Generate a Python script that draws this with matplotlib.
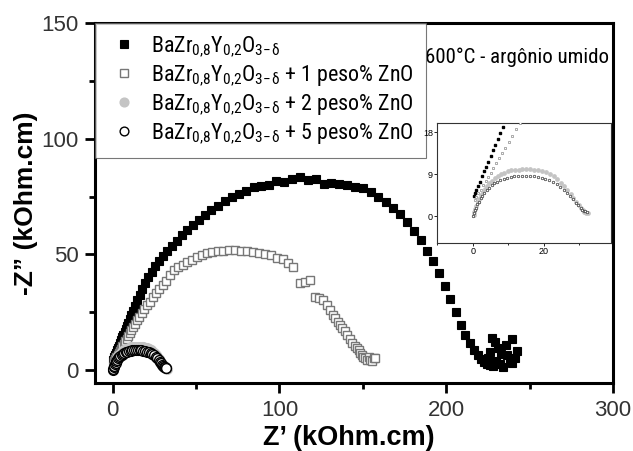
import matplotlib
matplotlib.use("Agg")
import matplotlib.pyplot as plt
from matplotlib.ticker import MultipleLocator

# ---------------- data ----------------
x_pure = [0.3, 0.6, 1.0, 1.5, 2.0, 2.6, 3.2, 3.8, 4.4, 5.0, 5.7, 6.4, 7.1, 7.8, 8.5, 9.3,
          10.2, 11.2, 12.3, 13.5, 14.8, 16.2, 17.8, 19.5, 21.3, 23.3, 25.5, 27.8, 30.2, 32.8,
          35.5, 38.4, 41.5, 44.7, 48.0, 51.5, 55.2, 59.0, 63.0, 67.1, 71.3, 75.6, 80.0, 84.5,
          89.0, 93.5, 98.2, 102.8, 107.5, 112.2, 117.0, 121.7, 126.5, 131.2, 136.0, 140.7,
          145.4, 150.0, 154.6, 159.2, 163.7, 168.1, 172.4, 176.6, 180.7, 184.7, 188.5, 192.2,
          195.8, 199.2, 202.5, 205.6, 208.6, 211.4, 214.0, 216.5, 218.8, 220.9, 222.8, 224.6,
          226.2, 227.5, 239.5, 242.5, 239.5, 228.0, 234.0, 225.0, 231.0, 236.5, 230.0, 233.0,
          229.0, 236.0, 241.0, 226.0, 232.0, 238.0]
y_pure = [4.3, 4.9, 5.6, 6.5, 7.4, 8.5, 9.6, 10.6, 11.7, 12.8, 14.1, 15.3, 16.6, 17.8, 19.1, 20.5,
          22.0, 23.8, 25.7, 27.8, 30.1, 32.5, 35.2, 37.5, 40.0, 42.5, 45.0, 47.2, 49.3, 51.5,
          53.6, 55.8, 58.3, 60.5, 62.5, 64.7, 66.8, 69.0, 71.0, 72.9, 74.6, 76.2, 77.6, 78.9,
          79.6, 80.1, 81.9, 81.2, 82.6, 83.3, 82.0, 82.4, 80.5, 80.9, 80.6, 80.1,
          79.2, 78.6, 76.8, 74.6, 72.5, 70.2, 67.6, 64.2, 60.3, 56.0, 51.6, 47.0,
          42.0, 36.5, 30.5, 25.0, 19.6, 15.2, 11.5, 8.6, 6.4, 4.8, 3.6, 2.6,
          2.0, 13.8, 13.4, 8.2, 3.0, 1.7, 1.3, 5.2, 9.5, 6.5, 4.0, 7.0,
          12.0, 11.0, 5.0, 8.0, 2.5, 3.5]

x_zn1 = [0.5, 1.0, 1.6, 2.2, 2.9, 3.6, 4.3, 5.0, 5.8, 6.6, 7.4, 8.3, 9.2, 10.2, 11.2, 12.3, 13.4,
         14.6, 15.9, 17.3, 18.8, 20.4, 22.1, 23.9, 25.8, 27.8, 29.9, 32.1, 34.4, 36.8, 39.3,
         41.9, 44.6, 47.4, 50.3, 53.3, 56.4, 59.6, 62.9, 66.3, 69.8, 73.3, 76.9, 80.5, 84.1,
         87.7, 91.3, 94.9, 98.4, 101.9, 105.2, 108.4, 112.6, 115.5, 118.6, 121.6, 124.0,
         126.3, 128.5, 130.5, 132.2, 133.5, 135.0, 136.4, 137.7, 139.2, 140.7, 142.2, 143.7,
         145.0, 146.3, 147.5, 148.5, 149.4, 150.3, 151.3, 152.5, 153.5, 154.5, 155.6, 156.5,
         157.5]
y_zn1 = [3.5, 4.1, 4.9, 5.7, 6.6, 7.5, 8.4, 9.3, 10.3, 11.4, 12.4, 13.6, 14.7, 16.0, 17.3, 18.7,
         20.0, 21.5, 23.0, 24.6, 26.2, 27.9, 29.6, 31.4, 33.2, 35.0, 36.8, 38.6, 41.0, 43.2,
         44.6, 45.6, 46.6, 47.6, 48.8, 49.8, 50.6, 51.0, 51.3, 51.6, 51.7, 51.9, 51.6, 51.5,
         51.0, 50.6, 50.1, 49.6, 48.6, 47.8, 46.2, 44.4, 37.5, 38.2, 38.8, 31.5, 31.0,
         30.2, 28.0, 25.9, 24.0, 22.4, 20.8, 19.5, 18.0, 16.8, 15.0, 13.5, 11.6,
         10.5, 9.4, 8.6, 7.5, 6.5, 5.6, 5.0, 4.3, 5.5, 4.3, 3.8, 5.2, 5.2]

x_zn2 = [0.2, 0.4, 0.7, 1.0, 1.4, 1.8, 2.3, 2.8, 3.4, 4.0, 4.7, 5.4, 6.2, 7.0, 7.9, 8.8, 9.8,
         10.8, 11.8, 12.9, 14.0, 15.1, 16.2, 17.3, 18.4, 19.5, 20.6, 21.7, 22.8, 23.8, 24.8,
         25.8, 26.7, 27.6, 28.4, 29.2, 29.9, 30.5, 31.0, 31.5, 32.0, 32.4]
y_zn2 = [0.3, 0.8, 1.5, 2.2, 3.0, 3.7, 4.5, 5.2, 5.9, 6.5, 7.1, 7.6, 8.1, 8.6, 9.0, 9.3, 9.6,
         9.8, 9.9, 10.0, 10.1, 10.1, 10.1, 10.0, 9.9, 9.7, 9.4, 9.0, 8.5, 7.9, 7.2,
         6.4, 5.6, 4.7, 3.8, 3.0, 2.3, 1.7, 1.2, 0.9, 0.7, 0.6]

x_zn5 = [0.1, 0.3, 0.6, 0.9, 1.3, 1.7, 2.2, 2.7, 3.3, 3.9, 4.6, 5.3, 6.1, 6.9, 7.8, 8.7, 9.7,
         10.7, 11.7, 12.8, 13.9, 15.0, 16.1, 17.2, 18.3, 19.4, 20.5, 21.6, 22.7, 23.7, 24.7,
         25.7, 26.6, 27.5, 28.3, 29.1, 29.8, 30.4, 30.9, 31.4, 31.8, 32.1]
y_zn5 = [0.1, 0.6, 1.2, 1.8, 2.5, 3.1, 3.8, 4.4, 5.0, 5.6, 6.1, 6.6, 7.0, 7.4, 7.7, 8.0, 8.2,
         8.4, 8.5, 8.6, 8.6, 8.6, 8.6, 8.5, 8.4, 8.2, 8.0, 7.7, 7.3, 6.9, 6.3,
         5.7, 5.0, 4.3, 3.6, 2.9, 2.3, 1.8, 1.4, 1.1, 1.0, 0.9]

base = r'BaZr$_\mathregular{0{,}8}$Y$_\mathregular{0{,}2}$O$_\mathregular{3\!-\!δ}$'
labels = [base,
          base + ' + 1 peso% ZnO',
          base + ' + 2 peso% ZnO',
          base + ' + 5 peso% ZnO']
condition_text = '600°C - argônio umido'
xlabel = 'Z’ (kOhm.cm)'
ylabel = '-Z” (kOhm.cm)'

# ---------------- styling ----------------
plt.rcParams['font.family'] = ['Liberation Sans', 'DejaVu Sans']
narrow = ['Roboto Condensed', 'Liberation Sans Narrow', 'DejaVu Sans']

fig = plt.figure(figsize=(6.33, 4.51), dpi=100)
ax = fig.add_axes([95 / 633, 68 / 451, 518 / 633, 360 / 451])

ms = 6
l1, = ax.plot(x_pure, y_pure, 's', color='black', ms=ms, mec='black', mew=0.8, zorder=2)
l2, = ax.plot(x_zn1, y_zn1, 's', mfc='white', mec='#777777', ms=ms, mew=1.0, zorder=3)
l3, = ax.plot(x_zn2, y_zn2, 'o', color='#c4c4c4', mec='#c4c4c4', ms=ms + 1, zorder=4)
l4, = ax.plot(x_zn5, y_zn5, 'o', mfc='white', mec='black', ms=ms + 1, mew=1.0, zorder=5)

ax.set_xlim(-10.6, 300)
ax.set_ylim(-5.6, 150)
ax.xaxis.set_major_locator(MultipleLocator(100))
ax.xaxis.set_minor_locator(MultipleLocator(50))
ax.yaxis.set_major_locator(MultipleLocator(50))
ax.yaxis.set_minor_locator(MultipleLocator(25))
for s in ax.spines.values():
    s.set_linewidth(2.2)
ax.tick_params(which='both', direction='out', width=2.0, top=False, right=False,
               labelsize=16, labelcolor='#333333')
ax.tick_params(which='major', length=7, pad=5)
ax.tick_params(which='minor', length=4)

ax.set_xlabel(xlabel, fontsize=19.5, fontweight='bold')
ax.set_ylabel(ylabel, fontsize=19, fontweight='bold')
ax.xaxis.set_label_coords(0.49, -0.118)
ax.yaxis.set_label_coords(-0.11, 0.5)

leg = ax.legend([l1, l2, l3, l4], labels, loc='upper left', bbox_to_anchor=(0.0, 1.0),
                frameon=True, fancybox=False, edgecolor='#555555',
                prop={'family': narrow, 'size': 15.8, 'stretch': 'condensed'},
                handlelength=1.5, handletextpad=0.5,
                labelspacing=0.22, borderpad=0.55, borderaxespad=0.0, markerscale=0.9)
leg.get_frame().set_linewidth(0.8)
leg.set_zorder(10)

ax.text(0.815, 0.906, condition_text, transform=ax.transAxes, ha='center', va='center',
        fontsize=15, family=narrow, stretch='condensed')

# ---------------- inset ----------------
ins = fig.add_axes([437 / 633, 208 / 451, 174 / 633, 120 / 451])
ims = 1.8
ins.plot(x_pure, y_pure, 's', color='black', ms=ims, zorder=2)
ins.plot(x_zn1, y_zn1, 's', mfc='white', mec='#888888', ms=ims, mew=0.5, zorder=3)
ins.plot(x_zn2, y_zn2, 'o', color='#c4c4c4', ms=ims + 0.6, zorder=4)
ins.plot(x_zn5, y_zn5, 'o', mfc='white', mec='#333333', ms=ims, mew=0.5, zorder=5)
ins.set_xlim(-10.1, 39)
ins.set_ylim(-5.8, 20)
ins.xaxis.set_major_locator(MultipleLocator(20))
ins.xaxis.set_minor_locator(MultipleLocator(10))
ins.yaxis.set_major_locator(MultipleLocator(9))
for s in ins.spines.values():
    s.set_linewidth(0.8)
    s.set_color('#333333')
ins.tick_params(which='both', direction='out', labelsize=6.5, length=2, width=0.6, pad=1)
ins.tick_params(which='minor', length=1.5)

fig.savefig('out.png', dpi=100)
